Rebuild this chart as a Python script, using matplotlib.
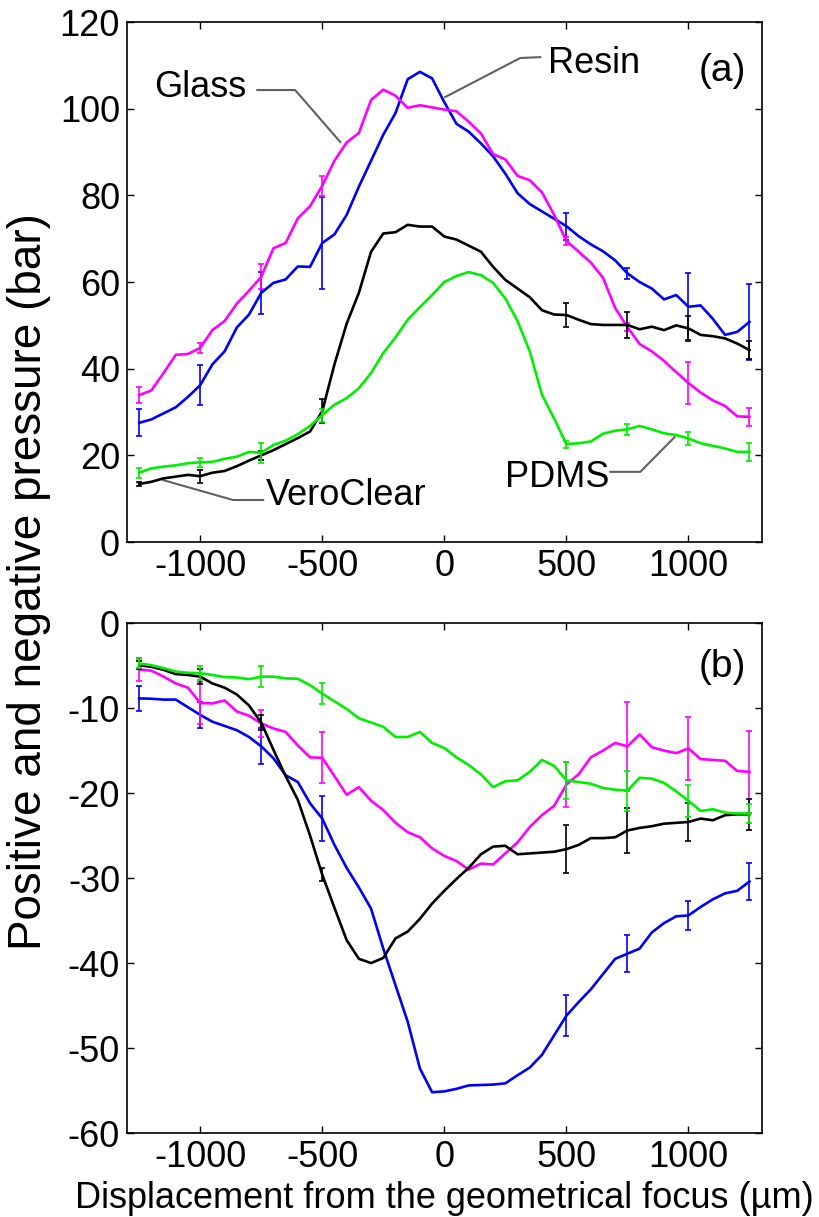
import matplotlib
matplotlib.use("Agg")
import matplotlib.pyplot as plt

plt.rcParams['font.family'] = ['Liberation Sans', 'DejaVu Sans']
plt.rcParams['axes.unicode_minus'] = False

x = list(range(-1250, 1251, 50))
x_err = [-1250, -1000, -750, -500, 500, 750, 1000, 1250]

# (a) positive pressure (bar)
glass_pos = [33.9, 35.0, 39.0, 43.2, 43.4, 44.8, 48.9, 51.0, 55.0, 58.0,
             61.2, 67.8, 69.0, 74.7, 77.5, 82.2, 88.0, 92.2, 94.4, 102.0,
             104.4, 103.0, 100.2, 100.8, 100.3, 99.8, 99.4, 97.0, 94.3, 89.5,
             88.3, 84.5, 83.5, 80.7, 75.5, 69.5, 67.0, 64.5, 61.0, 54.0,
             49.6, 45.7, 44.0, 41.8, 39.2, 36.7, 34.5, 32.7, 31.4, 29.0, 28.9]
resin_pos = [27.5, 28.3, 29.7, 31.1, 33.5, 36.2, 41.0, 44.0, 49.5, 52.5,
             57.5, 59.8, 60.6, 63.6, 63.5, 69.0, 71.0, 75.5, 82.0, 88.0,
             94.0, 99.0, 106.8, 108.5, 107.0, 101.5, 96.5, 94.7, 92.0, 89.0,
             85.0, 80.5, 78.0, 76.3, 74.6, 72.9, 70.6, 68.7, 67.1, 65.0,
             62.0, 60.0, 58.5, 56.0, 57.0, 54.3, 54.6, 51.5, 47.8, 48.5, 50.8]
vero_pos = [13.4, 13.9, 14.7, 15.1, 15.5, 15.2, 16.0, 16.4, 17.5, 18.8,
            20.0, 21.2, 22.6, 24.0, 25.5, 30.2, 41.0, 50.4, 57.5, 67.0,
            71.2, 71.5, 73.2, 72.8, 72.8, 70.5, 69.8, 68.4, 67.0, 63.5,
            60.5, 58.5, 56.5, 53.5, 52.5, 52.4, 51.3, 50.3, 50.1, 50.1,
            50.1, 49.1, 49.7, 48.9, 50.0, 49.3, 47.8, 47.5, 47.0, 45.8, 44.3]
pdms_pos = [16.0, 17.0, 17.4, 17.7, 18.2, 18.4, 18.5, 19.2, 19.7, 20.8,
            20.6, 22.4, 23.4, 24.9, 26.8, 29.3, 31.7, 33.2, 35.5, 39.0,
            43.6, 47.2, 51.3, 54.2, 57.0, 60.0, 61.4, 62.3, 61.6, 59.8,
            56.2, 51.0, 44.0, 34.0, 28.5, 22.6, 22.8, 23.2, 25.0, 25.7,
            26.0, 26.8, 26.0, 25.1, 24.7, 23.9, 22.8, 22.2, 21.6, 20.8, 20.8]

glass_pos_err = [1.8, 1.1, 2.9, 2.3, 1.0, 1.0, 4.8, 2.1]
resin_pos_err = [3.1, 4.6, 4.8, 10.7, 3.1, 1.3, 7.7, 8.7]
vero_pos_err = [0.5, 1.5, 1.0, 2.7, 2.7, 2.9, 2.9, 2.1]
pdms_pos_err = [1.2, 1.0, 2.3, 1.5, 0.8, 1.3, 1.5, 2.0]

# (b) negative pressure (bar)
glass_neg = [-5.45, -5.6, -6.3, -7.1, -7.6, -9.4, -9.45, -9.1, -10.4, -10.9,
             -11.8, -12.4, -12.8, -14.4, -15.8, -15.85, -18.0, -20.2, -19.3, -20.9,
             -22.0, -23.5, -24.6, -25.2, -26.5, -27.4, -28.0, -29.0, -28.3, -28.4,
             -27.1, -25.8, -24.0, -22.6, -21.5, -19.0, -17.8, -15.8, -15.0, -14.1,
             -14.5, -13.1, -14.6, -15.0, -15.3, -14.75, -16.0, -16.1, -16.2, -17.4, -17.5]
resin_neg = [-8.86, -8.9, -9.0, -9.0, -9.9, -10.8, -11.6, -12.1, -12.6, -13.4,
             -14.5, -15.9, -17.9, -18.7, -21.2, -23.0, -26.1, -28.8, -31.1, -33.6,
             -38.3, -42.6, -46.9, -52.4, -55.2, -55.1, -54.8, -54.4, -54.35, -54.3,
             -54.15, -53.2, -52.3, -50.8, -48.5, -46.2, -44.6, -43.1, -41.3, -39.5,
             -38.9, -38.3, -36.4, -35.3, -34.5, -34.4, -33.4, -32.5, -31.8, -31.5, -30.4]
vero_neg = [-4.95, -5.15, -5.5, -6.0, -6.1, -6.3, -7.1, -7.6, -8.4, -9.7,
            -11.7, -14.9, -18.0, -20.8, -25.0, -29.6, -33.5, -37.3, -39.5, -40.0,
            -39.4, -37.1, -36.3, -34.8, -33.0, -31.5, -30.1, -28.8, -27.2, -26.3,
            -26.2, -27.2, -27.1, -27.0, -26.9, -26.6, -26.1, -25.3, -25.3, -25.2,
            -24.4, -24.1, -23.9, -23.6, -23.5, -23.4, -23.0, -23.2, -22.6, -22.5, -22.5]
pdms_neg = [-4.75, -4.95, -5.3, -5.7, -5.85, -5.9, -6.1, -6.35, -6.4, -6.6,
            -6.3, -6.3, -6.5, -6.55, -7.3, -8.3, -9.2, -10.1, -11.2, -11.7,
            -12.2, -13.4, -13.4, -12.8, -14.1, -14.7, -15.8, -16.7, -17.8, -19.3,
            -18.6, -18.5, -17.5, -16.1, -16.8, -18.5, -18.7, -18.9, -19.4, -19.6,
            -19.7, -18.2, -18.3, -18.8, -19.8, -20.9, -22.1, -21.9, -22.3, -22.4, -22.4]

glass_neg_err = [1.4, 2.45, 1.55, 3.0, 2.65, 5.2, 3.7, 4.8]
resin_neg_err = [1.5, 1.5, 2.1, 2.65, 2.4, 2.2, 1.7, 2.2]
vero_neg_err = [0.5, 0.9, 0.9, 0.8, 2.85, 2.65, 2.25, 1.85]
pdms_neg_err = [0.5, 0.8, 1.25, 1.2, 2.15, 2.35, 1.9, 1.1]

colors = {'Glass': '#ff00ff', 'Resin': '#0000ff', 'VeroClear': '#000000', 'PDMS': '#00ee00'}
fs = 26
lead = '#606060'


def draw(ax, series):
    for name, y, err in series:
        c = colors[name]
        ax.plot(x, y, color=c, lw=1.9, zorder=3)
        ye = [y[x.index(v)] for v in x_err]
        ax.errorbar(x_err, ye, yerr=err, fmt='none', ecolor=c, elinewidth=1.2,
                    capsize=2.5, capthick=1.2, zorder=3)
    ax.set_xlim(-1300, 1300)
    ax.set_xticks([-1000, -500, 0, 500, 1000])
    ax.tick_params(direction='in', top=True, right=True, length=5, width=1,
                   labelsize=fs, pad=5)
    for s in ax.spines.values():
        s.set_linewidth(1.2)


fig = plt.figure(figsize=(8.19, 12.17), dpi=100)
ax1 = fig.add_axes([0.155, 0.5546, 0.775, 0.4273])
ax2 = fig.add_axes([0.155, 0.069, 0.775, 0.419])

draw(ax1, [('Resin', resin_pos, resin_pos_err), ('Glass', glass_pos, glass_pos_err),
           ('VeroClear', vero_pos, vero_pos_err), ('PDMS', pdms_pos, pdms_pos_err)])
ax1.set_ylim(0, 120)
ax1.set_yticks(range(0, 121, 20))

draw(ax2, [('Resin', resin_neg, resin_neg_err), ('Glass', glass_neg, glass_neg_err),
           ('VeroClear', vero_neg, vero_neg_err), ('PDMS', pdms_neg, pdms_neg_err)])
ax2.set_ylim(-60, 0)
ax2.set_yticks(range(-60, 1, 10))
ax2.set_xlabel('Displacement from the geometrical focus (µm)', fontsize=fs, labelpad=4)

# labels with leader lines
ax1.plot([-766, -611, -426], [104.3, 104.3, 92.3], color=lead, lw=1.5, zorder=2)
ax1.text(-1000, 104.8, 'Glass', fontsize=fs, ha='center', va='center')
ax1.plot([393, 311, 4], [111.9, 111.7, 102.7], color=lead, lw=1.5, zorder=2)
ax1.text(426, 110.5, 'Resin', fontsize=fs, ha='left', va='center')
ax1.plot([-742, -865, -1152], [9.7, 9.7, 14.3], color=lead, lw=1.5, zorder=2)
ax1.text(-730, 10.8, 'VeroClear', fontsize=fs, ha='left', va='center')
ax1.plot([680, 803, 943], [16.2, 16.2, 24.2], color=lead, lw=1.5, zorder=2)
ax1.text(250, 15.0, 'PDMS', fontsize=fs, ha='left', va='center')

ax1.text(1139, 108.7, '(a)', fontsize=28, ha='center', va='center')
ax2.text(1139, -5.2, '(b)', fontsize=28, ha='center', va='center')

fig.text(0.036, 1 - 582 / 1217, 'Positive and negative pressure (bar)', rotation=90,
         fontsize=33, ha='center', va='center')

fig.savefig('out.png', dpi=100)
